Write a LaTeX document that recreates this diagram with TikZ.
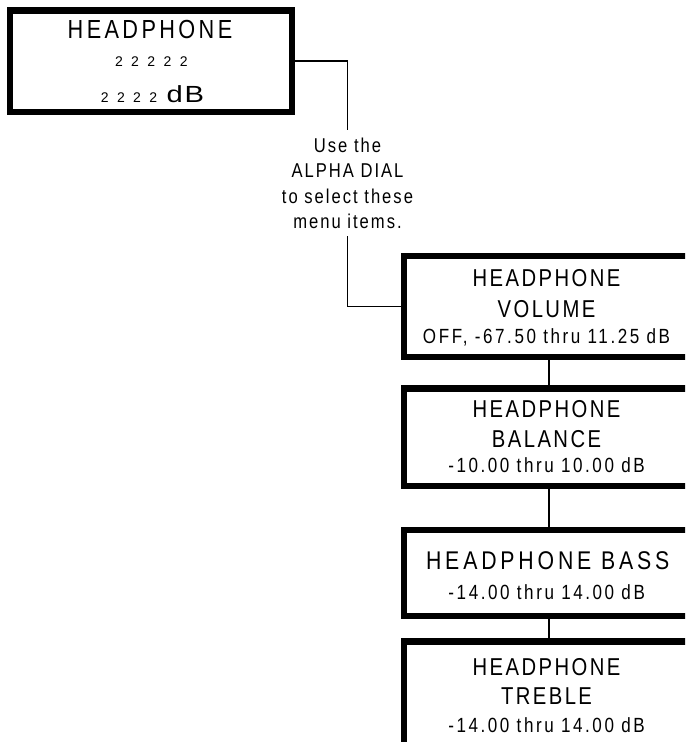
\documentclass[tikz,border=0pt]{standalone}
\usepackage{fontspec}
\setmainfont{Liberation Sans}[FakeStretch=0.83,LetterSpace=10]
\newfontfamily\hfontw{Liberation Sans}[FakeStretch=0.83,LetterSpace=15]
\newfontfamily\hfontt{Liberation Sans}[FakeStretch=0.83,LetterSpace=13]
\newfontfamily\vfont{Liberation Sans}[FakeStretch=0.83,LetterSpace=12.5]
\newfontfamily\pfont{Liberation Sans}
\newfontfamily\wfont{Liberation Sans}[FakeStretch=1.25]
\tikzset{
  box/.style={draw, line width=4.9pt, rectangle, inner sep=0pt},
  conn/.style={line width=1.35pt},
  lbl/.style={inner sep=0pt, anchor=base},
  hd/.style={font=\fontsize{18.3pt}{22pt}\selectfont},
  val/.style={font=\vfont\fontsize{15.4pt}{18pt}\selectfont},
}
\begin{document}
\begin{tikzpicture}[x=0.75pt,y=-0.75pt]
\clip (0,0) rectangle (685,742);
% top box
\node[box, minimum width={282*0.75pt}, minimum height={101.5*0.75pt}] (top) at (151,61.25) {};
\node[lbl, font=\hfontt\fontsize{19.6pt}{23pt}\selectfont] (t1) at (150,38.5) {HEADPHONE};
\node[lbl, font=\pfont\fontsize{10.5pt}{12pt}\selectfont] (t2) at (151.3,66.5) {2\hspace{6.3pt}2\hspace{6.3pt}2\hspace{6.3pt}2\hspace{6.3pt}2};
\node[lbl, font=\pfont\fontsize{10.5pt}{12pt}\selectfont] (t3) at (152.5,103) {2\hspace{6.3pt}2\hspace{6.3pt}2\hspace{6.3pt}2\kern 7pt{\wfont\fontsize{17.5pt}{19pt}\selectfont d\kern 1.5pt B}};
% dial text
\node[anchor=north, align=center, inner xsep=0pt, inner ysep=5.55pt,
      font=\fontsize{15pt}{19.1pt}\selectfont] (dial) at (347.5,130)
      {Use the\\ALPHA DIAL\\to select these\\menu items.};
% volume
\node[box, minimum width={290*0.75pt}, minimum height={101*0.75pt}] (vol) at (549,306.5) {};
\node[lbl, hd] (v1) at (546.5,286) {HEADPHONE};
\node[lbl, hd] (v2) at (546.5,317.3) {VOLUME};
\node[lbl, val] (v3) at (546.5,343.5) {OFF, -67.50 thru 11.25 dB};
% balance
\node[box, minimum width={290*0.75pt}, minimum height={97.5*0.75pt}] (bal) at (549,437.25) {};
\node[lbl, hd] (b1) at (546.5,417.3) {HEADPHONE};
\node[lbl, hd] (b2) at (546.5,447.3) {BALANCE};
\node[lbl, val] (b3) at (546.5,472.5) {-10.00 thru 10.00 dB};
% bass
\node[box, minimum width={290*0.75pt}, minimum height={86*0.75pt}] (bass) at (549,573) {};
\node[lbl, font=\hfontw\fontsize{19.2pt}{23pt}\selectfont] (s1) at (547.7,569) {HEADPHONE BASS};
\node[lbl, val] (s2) at (546.7,599) {-14.00 thru 14.00 dB};
% treble
\node[box, minimum width={290*0.75pt}, minimum height={118.5*0.75pt}] (treb) at (549,700.75) {};
\node[lbl, hd] (r1) at (546.5,675) {HEADPHONE};
\node[lbl, hd] (r2) at (546.5,704) {TREBLE};
\node[lbl, val] (r3) at (546.5,732) {-14.00 thru 14.00 dB};
% connectors
\draw[conn] (top.east) -| (dial.north);
\draw[conn] (dial.south) |- (vol.west);
\draw[conn] (vol.south) -- (bal.north);
\draw[conn] (bal.south) -- (bass.north);
\draw[conn] (bass.south) -- (treb.north);
\end{tikzpicture}
\end{document}
